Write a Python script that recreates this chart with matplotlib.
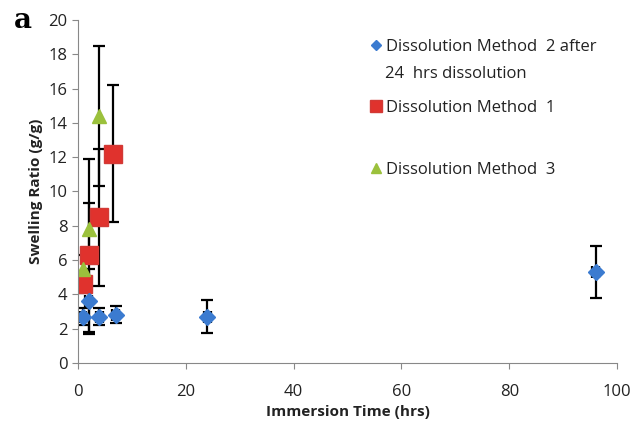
import numpy as np
import matplotlib
matplotlib.use("Agg")
import matplotlib.pyplot as plt

# swelling ratio vs immersion time for the three dissolution methods
t_m2 = [1, 2, 4, 7, 24, 96]
sr_m2 = [2.7, 3.6, 2.7, 2.8, 2.7, 5.3]
err_m2 = [0.5, 1.9, 0.5, 0.5, 0.95, 1.5]

t_m1 = [1, 2, 4, 6.5]
sr_m1 = [4.6, 6.3, 8.5, 12.2]
err_m1_low = [0.5, 4.5, 4.0, 4.0]
err_m1_high = [0.5, 5.6, 4.0, 4.0]

t_m3 = [1, 2, 4]
sr_m3 = [5.5, 7.8, 14.4]
err_m3 = [0.8, 1.5, 4.1]

labels = ['Dissolution Method  2 after',
          'Dissolution Method  1',
          'Dissolution Method  3']
label_m2_cont = '24  hrs dissolution'

plt.rcParams['font.family'] = ['Open Sans', 'DejaVu Sans']

fig = plt.figure(figsize=(6.33, 4.24), dpi=100)
ax = fig.add_axes([0.123, 0.144, 0.852, 0.809])

ebkw = dict(ecolor='black', elinewidth=1.6, capsize=4, capthick=1.6, linestyle='none')

e1 = ax.errorbar(t_m1, sr_m1, yerr=[err_m1_low, err_m1_high], marker='s', ms=13,
                 mfc='#e0322d', mec='#d23a36', **ebkw)
e3 = ax.errorbar(t_m3, sr_m3, yerr=err_m3, marker='^', ms=10,
                 mfc='#9bc13c', mec='#9bc13c', **ebkw)
e2 = ax.errorbar(t_m2, sr_m2, yerr=err_m2, xerr=0.6, marker='D', ms=8,
                 mfc='#3b7bd0', mec='#3b7bd0', **ebkw)

ax.set_xlim(0, 100)
ax.set_ylim(0, 20)
ax.set_xticks(np.arange(0, 101, 20))
ax.set_yticks(np.arange(0, 21, 2))
ax.tick_params(labelsize=12, length=4, color='#888888', colors='#222222')
ax.tick_params(axis='x', pad=11)
for s in ['top', 'right']:
    ax.spines[s].set_visible(False)
for s in ['left', 'bottom']:
    ax.spines[s].set_color('#888888')

ax.set_xlabel('Immersion Time (hrs)', fontsize=11, fontweight='bold', color='#222222')
ax.set_ylabel('Swelling Ratio (g/g)', fontsize=11, fontweight='bold', color='#222222')

# legend entries sit at uneven heights, so each gets its own legend
handles = [e2[0], e1[0], e3[0]]
tops = [0.936, 0.792, 0.646]
for hnd, lab, top in zip(handles, labels, tops):
    leg = fig.legend([hnd], [lab], loc='upper left', bbox_to_anchor=(0.565, top),
                     frameon=False, fontsize=12, handletextpad=0.2, handlelength=0.8,
                     markerscale=0.7, borderpad=0.2)
    for txt in leg.get_texts():
        txt.set_color('#222222')
fig.text(0.609, 0.825, label_m2_cont, fontsize=12, color='#222222', va='center')

fig.text(0.022, 0.935, 'a', fontsize=20, fontweight='bold', family='DejaVu Serif')

fig.savefig('out.png', dpi=100)
